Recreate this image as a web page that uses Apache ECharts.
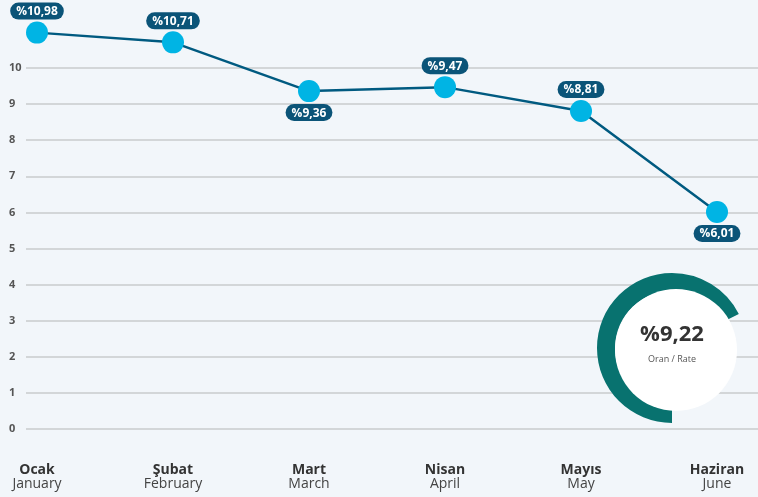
<!DOCTYPE html>
<html>
<head>
<meta charset="utf-8">
<script src="https://cdn.jsdelivr.net/npm/echarts@6/dist/echarts.min.js"></script>
<style>
html,body{margin:0;padding:0;background:#f2f6fa;}
#c{width:758px;height:497px;}
</style>
</head>
<body>
<div id="c"></div>
<script>
var monthsTr = ['Ocak', 'Şubat', 'Mart', 'Nisan', 'Mayıs', 'Haziran'];
var monthsEn = ['January', 'February', 'March', 'April', 'May', 'June'];
var rates = [10.98, 10.71, 9.36, 9.47, 8.81, 6.01];
var labelSide = ['top', 'top', 'bottom', 'top', 'top', 'bottom'];
var yTicks = [0, 10, 1];
var donutValue = 9.22;
var donutRest = 4.44;
var donutTitle = 'Oran / Rate';

function fmt(v) { return '%' + v.toFixed(2).replace('.', ','); }

var chart = echarts.init(document.getElementById('c'));
var FONT = '"Open Sans", "Noto Sans", sans-serif';

var option = {
  backgroundColor: '#f2f6fa',
  animation: false,
  grid: [
    { left: 26, right: 0, top: 68, bottom: 68 },
    { left: 37, right: 41, top: 68, bottom: 68 }
  ],
  xAxis: [
    { gridIndex: 0, type: 'category', data: monthsTr, show: false },
    {
      gridIndex: 1, type: 'category', boundaryGap: false,
      data: monthsTr,
      axisLine: { show: false }, axisTick: { show: false },
      axisLabel: {
        margin: 34, interval: 0,
        formatter: function (v, i) { return '{a|' + v + '}\n{b|' + monthsEn[i] + '}'; },
        rich: {
          a: { fontFamily: FONT, fontWeight: 'bold', fontSize: 14, color: '#333', lineHeight: 14, align: 'center' },
          b: { fontFamily: FONT, fontSize: 14, color: '#444', lineHeight: 15, align: 'center' }
        }
      }
    }
  ],
  yAxis: [
    {
      gridIndex: 0, type: 'value', min: yTicks[0], max: yTicks[1], interval: yTicks[2],
      axisLine: { show: false }, axisTick: { show: false },
      axisLabel: { align: 'left', margin: 17, fontFamily: FONT, fontWeight: 'bold', fontSize: 11, color: '#555' },
      splitLine: { lineStyle: { color: '#c9cbcd', width: 1.5 } }
    },
    {
      gridIndex: 1, type: 'value', min: yTicks[0], max: yTicks[1], interval: yTicks[2],
      show: false, splitLine: { show: false }
    }
  ],
  series: [
    {
      type: 'line', xAxisIndex: 1, yAxisIndex: 1, clip: false,
      data: rates.map(function (v, i) {
        return { value: v, label: { position: labelSide[i] } };
      }),
      lineStyle: { color: '#005a80', width: 2.5 },
      symbol: 'circle', symbolSize: 22,
      itemStyle: { color: '#00b4e4' },
      label: {
        show: true, distance: 2,
        formatter: function (p) { return fmt(p.value); },
        color: '#fff', fontFamily: FONT, fontWeight: 'bold', fontSize: 12,
        backgroundColor: '#0b5478', borderRadius: 9, padding: [3, 6, 2, 6]
      },
      z: 5
    },
    {
      type: 'pie', center: [672, 348], radius: [57, 75], startAngle: 270, clockwise: true,
      silent: true, label: { show: false }, labelLine: { show: false },
      data: [
        { value: donutValue, itemStyle: { color: '#08726f' } },
        { value: donutRest, itemStyle: { color: 'rgba(0,0,0,0)' } }
      ],
      z: 6
    }
  ],
  graphic: [
    { type: 'circle', shape: { cx: 676, cy: 350, r: 61 }, style: { fill: '#ffffff' }, z: 100 },
    { type: 'text', x: 672, y: 335, z: 101,
      style: { text: fmt(donutValue), font: 'bold 22px ' + FONT, fill: '#333', align: 'center', verticalAlign: 'middle' } },
    { type: 'text', x: 672, y: 359, z: 101,
      style: { text: donutTitle, font: '9px ' + FONT, fill: '#555', align: 'center', verticalAlign: 'middle' } }
  ]
};
chart.setOption(option);
</script>
</body>
</html>
